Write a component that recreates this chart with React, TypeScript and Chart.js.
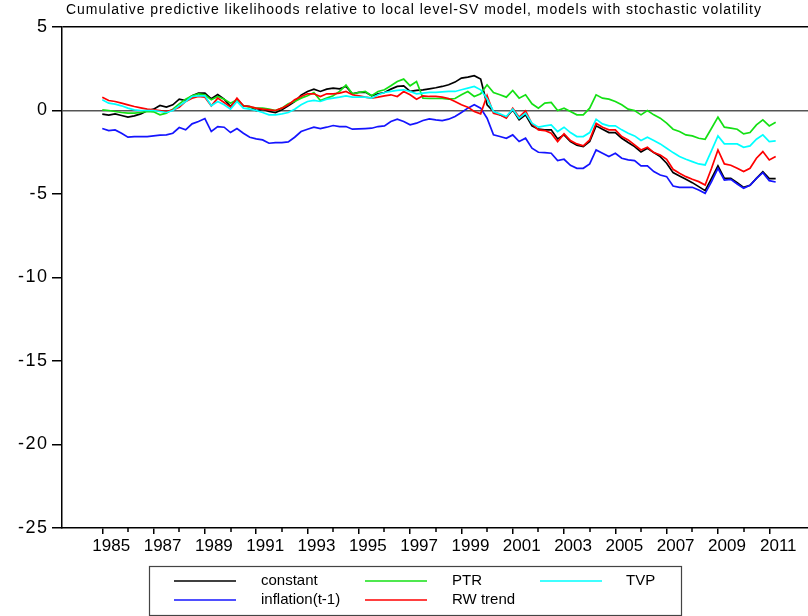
import { useEffect, useRef } from 'react';
import { Chart, LinearScale, registerables } from 'chart.js';

// Linear scale whose tick labels are drawn with a little extra letter spacing
class SpacedLinearScale extends LinearScale {
  static id = 'spacedLinear';
  static defaults = LinearScale.defaults;
  drawLabels(area: any) {
    const ctx = (this as any).ctx;
    ctx.save();
    ctx.letterSpacing = '1.5px';
    super.drawLabels(area);
    ctx.restore();
  }
}

Chart.register(...registerables, SpacedLinearScale);

const TITLE =
  'Cumulative predictive likelihoods relative to local level-SV model, models with stochastic volatility';

// Quarterly observations, 1985Q1 onwards
const FIRST_YEAR = 1985;
const QUARTERS_PER_YEAR = 4;

const yearTicks = [
  1985, 1986, 1987, 1988, 1989, 1990, 1991, 1992, 1993, 1994, 1995, 1996, 1997, 1998,
  1999, 2000, 2001, 2002, 2003, 2004, 2005, 2006, 2007, 2008, 2009, 2010, 2011,
];
const yTicks = [5, 0, -5, -10, -15, -20, -25];

const constant = [
  -0.22, -0.28, -0.2, -0.3, -0.4, -0.32, -0.2, -0.02, 0.08, 0.3,
  0.2, 0.34, 0.68, 0.6, 0.88, 1.04, 1.04, 0.7, 0.96, 0.68,
  0.24, 0.68, 0.28, 0.24, 0.0, 0.08, -0.06, -0.12, 0.04, 0.28,
  0.54, 0.92, 1.14, 1.28, 1.14, 1.28, 1.34, 1.3, 1.44, 1.0,
  1.08, 1.1, 0.88, 1.0, 1.08, 1.28, 1.44, 1.48, 1.14, 1.2,
  1.24, 1.3, 1.36, 1.44, 1.54, 1.7, 1.94, 2.0, 2.08, 1.88,
  0.34, -0.06, -0.26, -0.4, 0.04, -0.56, -0.26, -0.92, -1.12, -1.16,
  -1.16, -1.7, -1.46, -1.86, -2.08, -2.16, -1.86, -0.92, -1.12, -1.32,
  -1.32, -1.66, -1.92, -2.16, -2.48, -2.26, -2.52, -2.76, -3.16, -3.72,
  -3.92, -4.12, -4.32, -4.56, -4.8, -4.06, -3.32, -4.06, -4.06, -4.32,
  -4.6, -4.48, -4.06, -3.66, -4.08, -4.08,
];

const inflationLag = [
  -1.08, -1.2, -1.16, -1.36, -1.6, -1.56, -1.56, -1.56, -1.52, -1.48,
  -1.46, -1.36, -1.02, -1.16, -0.8, -0.66, -0.48, -1.26, -0.96, -1.0,
  -1.32, -1.08, -1.36, -1.6, -1.7, -1.76, -1.96, -1.92, -1.92, -1.88,
  -1.6, -1.26, -1.12, -1.0, -1.08, -1.0, -0.9, -0.96, -0.96, -1.12,
  -1.1, -1.08, -1.06, -0.96, -0.92, -0.66, -0.52, -0.66, -0.86, -0.76,
  -0.6, -0.5, -0.56, -0.6, -0.52, -0.36, -0.12, 0.14, 0.34, 0.14,
  -0.46, -1.46, -1.56, -1.66, -1.46, -1.86, -1.66, -2.26, -2.5, -2.52,
  -2.56, -3.0, -2.92, -3.28, -3.46, -3.46, -3.2, -2.36, -2.56, -2.76,
  -2.56, -2.86, -2.96, -3.0, -3.32, -3.32, -3.66, -3.86, -3.96, -4.52,
  -4.6, -4.6, -4.6, -4.76, -4.96, -4.26, -3.46, -4.16, -4.12, -4.4,
  -4.66, -4.48, -4.06, -3.72, -4.2, -4.28,
];

const ptr = [
  0.04, 0.0, -0.06, -0.12, -0.16, -0.16, -0.12, -0.06, -0.08, -0.26,
  -0.16, 0.08, 0.4, 0.68, 0.88, 1.0, 0.94, 0.64, 0.84, 0.68,
  0.44, 0.64, 0.28, 0.2, 0.14, 0.14, 0.08, 0.0, 0.14, 0.4,
  0.54, 0.74, 0.88, 1.08, 0.6, 0.74, 0.88, 1.14, 1.52, 1.0,
  1.08, 1.14, 0.88, 1.14, 1.24, 1.48, 1.74, 1.88, 1.48, 1.74,
  0.74, 0.72, 0.72, 0.72, 0.68, 0.72, 0.94, 1.14, 0.84, 1.0,
  1.54, 1.08, 0.94, 0.8, 1.2, 0.74, 0.94, 0.4, 0.14, 0.44,
  0.48, 0.0, 0.14, -0.06, -0.26, -0.26, 0.14, 0.94, 0.74, 0.68,
  0.54, 0.34, 0.08, 0.0, -0.26, 0.0, -0.26, -0.46, -0.76, -1.12,
  -1.26, -1.46, -1.52, -1.66, -1.72, -1.06, -0.4, -1.0, -1.06, -1.12,
  -1.4, -1.32, -0.86, -0.56, -0.92, -0.7,
];

const rwTrend = [
  0.8, 0.6, 0.54, 0.44, 0.34, 0.24, 0.16, 0.08, 0.04, 0.0,
  -0.06, 0.04, 0.2, 0.54, 0.74, 0.84, 0.8, 0.28, 0.74, 0.48,
  0.2, 0.74, 0.28, 0.24, 0.14, 0.08, 0.04, 0.0, 0.14, 0.34,
  0.64, 0.84, 1.0, 1.0, 0.84, 1.0, 1.0, 1.04, 1.14, 0.94,
  0.88, 0.8, 0.74, 0.8, 0.88, 0.94, 0.84, 1.14, 0.94, 0.68,
  0.88, 0.84, 0.84, 0.8, 0.72, 0.54, 0.34, 0.2, -0.06, -0.2,
  0.9, -0.16, -0.26, -0.46, 0.14, -0.4, -0.02, -0.8, -1.16, -1.2,
  -1.36, -1.86, -1.4, -1.8, -2.0, -2.12, -1.76, -0.76, -1.0, -1.16,
  -1.16, -1.56, -1.76, -2.06, -2.36, -2.2, -2.52, -2.66, -2.92, -3.52,
  -3.76, -3.96, -4.12, -4.26, -4.46, -3.46, -2.36, -3.2, -3.28, -3.46,
  -3.66, -3.46, -2.86, -2.46, -2.96, -2.76,
];

const tvp = [
  0.64, 0.44, 0.38, 0.28, 0.14, 0.04, 0.0, 0.0, 0.0, -0.06,
  -0.12, 0.0, 0.28, 0.54, 0.84, 0.88, 0.88, 0.28, 0.54, 0.34,
  0.08, 0.54, 0.14, 0.08, 0.0, -0.12, -0.26, -0.26, -0.2, -0.12,
  0.08, 0.34, 0.54, 0.6, 0.54, 0.68, 0.74, 0.8, 0.88, 0.8,
  0.8, 0.8, 0.74, 0.94, 1.08, 1.14, 1.2, 1.24, 1.14, 1.0,
  1.04, 1.08, 1.08, 1.12, 1.14, 1.14, 1.24, 1.34, 1.44, 1.24,
  0.7, -0.06, -0.2, -0.36, 0.08, -0.46, -0.16, -0.76, -1.0, -0.92,
  -0.86, -1.26, -1.0, -1.32, -1.56, -1.56, -1.32, -0.52, -0.8, -0.92,
  -0.92, -1.16, -1.36, -1.52, -1.8, -1.6, -1.8, -2.0, -2.26, -2.52,
  -2.76, -2.92, -3.06, -3.2, -3.26, -2.4, -1.52, -2.0, -2.0, -2.0,
  -2.2, -2.12, -1.72, -1.46, -1.86, -1.82,
];

const dates = constant.map((_, i) => FIRST_YEAR + i / QUARTERS_PER_YEAR);

const FONT = '"Liberation Sans", Arial, Helvetica, sans-serif';

// Legend laid out as a 3-column grid (row-major)
const legendSlots = [
  { label: 'constant', lineX: 174, textX: 261, y: 581 },
  { label: 'PTR', lineX: 365, textX: 452, y: 581 },
  { label: 'TVP', lineX: 540, textX: 626, y: 581 },
  { label: 'inflation(t-1)', lineX: 174, textX: 261, y: 600 },
  { label: 'RW trend', lineX: 365, textX: 452, y: 600 },
];

const decorations = {
  id: 'decorations',
  afterDraw(chart: any) {
    const { ctx, chartArea } = chart;
    const xScale = chart.scales.x;
    ctx.save();

    // title
    ctx.fillStyle = '#000';
    ctx.font = `14px ${FONT}`;
    ctx.letterSpacing = '0.95px';
    ctx.textAlign = 'left';
    ctx.textBaseline = 'alphabetic';
    ctx.fillText(TITLE, 66, 14);
    ctx.letterSpacing = '0px';

    // minor (even-year) ticks below the x axis
    ctx.strokeStyle = '#000';
    ctx.lineWidth = 1.5;
    yearTicks.forEach((yr) => {
      if (yr % 2 === 0) {
        const px = Math.round(xScale.getPixelForValue(yr));
        ctx.beginPath();
        ctx.moveTo(px, chartArea.bottom);
        ctx.lineTo(px, chartArea.bottom + 4);
        ctx.stroke();
      }
    });

    // legend box
    ctx.strokeStyle = '#444';
    ctx.lineWidth = 1.2;
    ctx.strokeRect(149.5, 566.5, 532, 49);

    ctx.font = `15px ${FONT}`;
    ctx.textBaseline = 'middle';
    legendSlots.forEach((slot) => {
      const ds = chart.data.datasets.find((d: any) => d.label === slot.label);
      if (!ds) return;
      ctx.strokeStyle = ds.borderColor;
      ctx.lineWidth = 1.7;
      ctx.beginPath();
      ctx.moveTo(slot.lineX, slot.y);
      ctx.lineTo(slot.lineX + 62, slot.y);
      ctx.stroke();
      ctx.fillStyle = '#000';
      ctx.fillText(slot.label, slot.textX, slot.y);
    });

    ctx.restore();
  },
};

export default function App() {
  const canvasRef = useRef<HTMLCanvasElement | null>(null);

  useEffect(() => {
    if (!canvasRef.current) return;
    const toPoints = (arr: number[]) => dates.map((x, i) => ({ x, y: arr[i] }));
    const series = [
      { label: 'constant', values: constant, color: '#000000', order: 5 },
      { label: 'inflation(t-1)', values: inflationLag, color: '#1414ff', order: 4 },
      { label: 'PTR', values: ptr, color: '#14e014', order: 3 },
      { label: 'RW trend', values: rwTrend, color: '#ff0000', order: 2 },
      { label: 'TVP', values: tvp, color: '#00ffff', order: 1 },
    ];

    const chart = new Chart(canvasRef.current, {
      type: 'line',
      data: {
        datasets: series.map((s) => ({
          label: s.label,
          data: toPoints(s.values),
          borderColor: s.color,
          backgroundColor: s.color,
          borderWidth: 1.7,
          pointRadius: 0,
          fill: false,
          tension: 0,
          order: s.order,
        })),
      },
      options: {
        responsive: false,
        animation: false,
        events: [],
        layout: { padding: { top: 27, right: 0, bottom: 0, left: 0 } },
        plugins: {
          legend: { display: false },
          title: { display: false },
          tooltip: { enabled: false },
        },
        scales: {
          x: {
            type: 'linear',
            min: 1983.43,
            max: 2012.51,
            afterFit: (scale: any) => {
              scale.height = 88;
            },
            afterBuildTicks: (scale: any) => {
              scale.ticks = yearTicks.map((v) => ({ value: v }));
            },
            ticks: {
              autoSkip: false,
              maxRotation: 0,
              minRotation: 0,
              labelOffset: 9,
              padding: 2,
              color: '#000',
              font: { family: FONT, size: 17 },
              callback: (v: any) => (Math.round(v) % 2 === 1 ? String(Math.round(v)) : ''),
            },
            grid: {
              drawOnChartArea: false,
              tickLength: 6,
              lineWidth: 1.5,
              tickColor: (ctx: any) =>
                ctx.tick && Math.round(ctx.tick.value) % 2 === 1 ? '#000' : 'rgba(0,0,0,0)',
            },
            border: { display: true, color: '#000', width: 1.5 },
          },
          y: {
            type: 'spacedLinear',
            min: -25,
            max: 5,
            afterFit: (scale: any) => {
              scale.width = 62;
            },
            afterBuildTicks: (scale: any) => {
              scale.ticks = yTicks.map((v) => ({ value: v }));
            },
            ticks: {
              padding: 3.5,
              color: '#000',
              font: { family: FONT, size: 18 },
            },
            grid: {
              drawOnChartArea: true,
              tickLength: 10,
              lineWidth: 1.5,
              tickColor: '#000',
              color: (ctx: any) => {
                const v = ctx.tick ? ctx.tick.value : null;
                if (v === 0) return '#555555';
                if (v === 5) return '#000000';
                return 'rgba(0,0,0,0)';
              },
            },
            border: { display: true, color: '#000', width: 1.5 },
          },
        },
      } as any,
      plugins: [decorations],
    });

    return () => chart.destroy();
  }, []);

  return (
    <div style={{ position: 'fixed', left: 0, top: 0, width: 808, height: 616, background: '#fff' }}>
      <canvas ref={canvasRef} width={808} height={616} style={{ display: 'block' }} />
    </div>
  );
}
